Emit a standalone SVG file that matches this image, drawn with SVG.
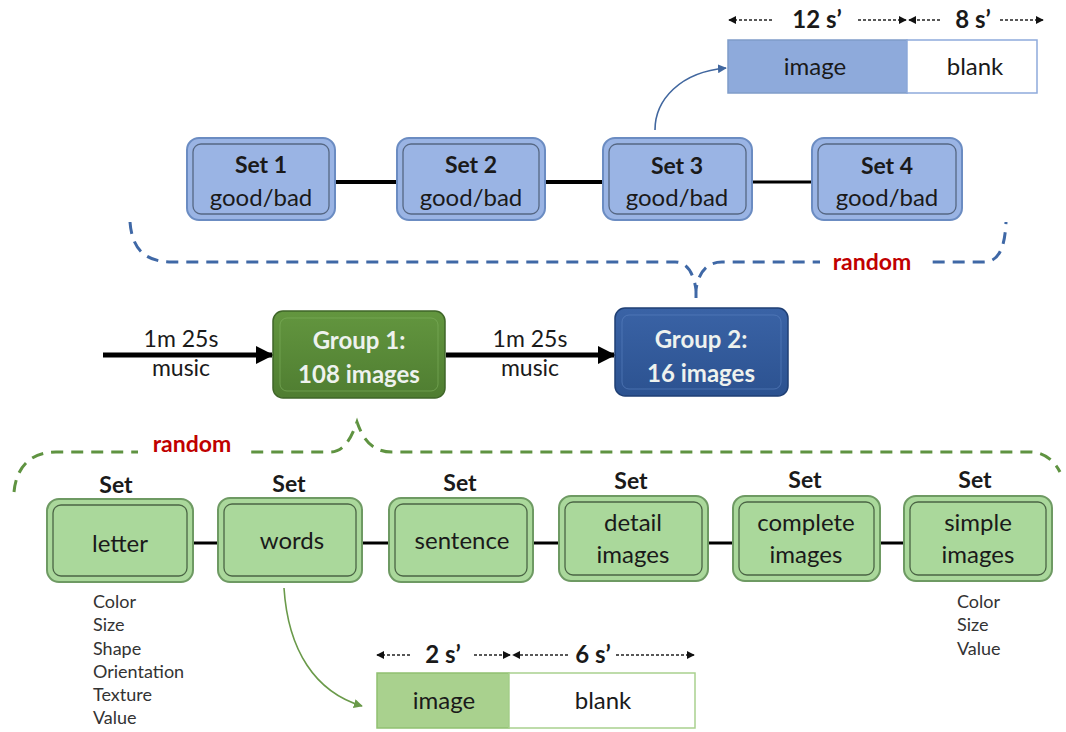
<svg xmlns="http://www.w3.org/2000/svg" width="1066" height="732" viewBox="0 0 1066 732">
  <style>
    text { font-family: Lato, "Open Sans", "Liberation Sans", sans-serif; }
    .blueSet { fill: #9ab4e4; stroke: #6b8cc2; stroke-width: 2; }
    .blueIn { fill: none; stroke: #3f4d63; stroke-width: 1.3; opacity: 0.75; }
    .greenSet { fill: #aad89b; stroke: #6e9a63; stroke-width: 2; }
    .greenIn { fill: none; stroke: #33492f; stroke-width: 1.3; opacity: 0.8; }
    .lbl { font-size: 24px; fill: #1a1a1a; text-anchor: middle; }
    .lblB { font-size: 23px; font-weight: bold; fill: #1a1a1a; text-anchor: middle; }
    .grpTxt { font-size: 24px; font-weight: bold; fill: #eef2ee; text-anchor: middle; }
    .music { font-size: 23px; fill: #1a1a1a; text-anchor: middle; }
    .rand { font-size: 23px; font-weight: bold; fill: #c00000; text-anchor: middle; }
    .list { font-size: 18px; fill: #333; }
    .dur { font-size: 24px; font-weight: bold; fill: #1a1a1a; text-anchor: middle; }
    .tl { stroke: #222; stroke-width: 1.4; stroke-dasharray: 3 2; fill: none; }
    .link { stroke: #000; fill: none; }
  </style>
  <defs>
    <marker id="tiny" viewBox="0 0 10 10" refX="9" refY="5" markerWidth="8" markerHeight="8" markerUnits="userSpaceOnUse" orient="auto">
      <path d="M0,0 L10,5 L0,10 z" fill="#111"/>
    </marker>
    <marker id="bigArrow" viewBox="0 0 10 10" refX="9" refY="5" markerWidth="18" markerHeight="18" markerUnits="userSpaceOnUse" orient="auto">
      <path d="M0,0 L10,5 L0,10 z" fill="#000"/>
    </marker>
    <marker id="blueHead" viewBox="0 0 10 10" refX="9" refY="5" markerWidth="9" markerHeight="9" markerUnits="userSpaceOnUse" orient="auto">
      <path d="M0,0 L10,5 L0,10 z" fill="#41679f"/>
    </marker>
    <marker id="greenHead" viewBox="0 0 10 10" refX="9" refY="5" markerWidth="9" markerHeight="9" markerUnits="userSpaceOnUse" orient="auto">
      <path d="M0,0 L10,5 L0,10 z" fill="#6a9a4a"/>
    </marker>
    <linearGradient id="g1" x1="0" y1="0" x2="0" y2="1">
      <stop offset="0" stop-color="#63963f"/>
      <stop offset="1" stop-color="#4f7d31"/>
    </linearGradient>
    <linearGradient id="g2" x1="0" y1="0" x2="0" y2="1">
      <stop offset="0" stop-color="#3a63a6"/>
      <stop offset="1" stop-color="#2c5290"/>
    </linearGradient>
  </defs>

  <!-- connectors -->
  <g id="connectors">
    <!-- top set chain -->
    <line class="link" x1="335" y1="182" x2="397" y2="182" stroke-width="4"/>
    <line class="link" x1="545" y1="182" x2="603" y2="182" stroke-width="4"/>
    <line class="link" x1="752" y1="182" x2="812" y2="182" stroke-width="3"/>
    <!-- bottom set chain -->
    <line class="link" x1="193" y1="543" x2="218" y2="543" stroke-width="3"/>
    <line class="link" x1="362" y1="543" x2="389" y2="543" stroke-width="3"/>
    <line class="link" x1="533" y1="543" x2="559" y2="543" stroke-width="3"/>
    <line class="link" x1="708" y1="543" x2="733" y2="543" stroke-width="3"/>
    <line class="link" x1="880" y1="543" x2="904" y2="543" stroke-width="3"/>
    <!-- music arrows -->
    <line class="link" x1="103" y1="355" x2="272" y2="355" stroke-width="5" marker-end="url(#bigArrow)"/>
    <line class="link" x1="446" y1="355" x2="614" y2="355" stroke-width="5" marker-end="url(#bigArrow)"/>
    <!-- Set 3 to its trial -->
    <path d="M655,130 C655,100 680,72 726,68" stroke="#41679f" stroke-width="1.6" fill="none" marker-end="url(#blueHead)"/>
    <!-- words set to its trial -->
    <path d="M284,588 C288,650 315,692 362,706" stroke="#6a9a4a" stroke-width="1.6" fill="none" marker-end="url(#greenHead)"/>
    <!-- blue random brace -->
    <path d="M130,222 C132,250 146,262 172,262 L675,262 C688,262 694,275 696,290 C698,275 705,262 722,262 L984,262 C1000,262 1005,245 1006,222" stroke="#3f68a6" stroke-width="3" stroke-dasharray="12 8" fill="none"/>
    <line x1="696" y1="290" x2="696" y2="300" stroke="#3f68a6" stroke-width="3" stroke-dasharray="8 4"/>
    <!-- green random brace -->
    <path d="M14,492 C16,470 28,452 56,452 L330,452 C345,452 352,436 357,422 C362,436 370,452 392,452 L1030,452 C1045,452 1055,462 1060,472" stroke="#5f9341" stroke-width="3" stroke-dasharray="12 8" fill="none"/>
  </g>

  <!-- labels on the braces -->
  <g id="randomTop">
    <rect x="820" y="250" width="108" height="26" fill="#fff"/>
    <text class="rand" x="872" y="270">random</text>
  </g>
  <g id="randomBottom">
    <rect x="138" y="434" width="108" height="26" fill="#fff"/>
    <text class="rand" x="192" y="452">random</text>
  </g>

  <!-- top trial timeline -->
  <g id="trialTop">
    <line class="tl" x1="772" y1="20" x2="729" y2="20" marker-end="url(#tiny)"/>
    <text class="dur" x="817" y="28">12 s’</text>
    <line class="tl" x1="858" y1="20" x2="906" y2="20" marker-end="url(#tiny)"/>
    <line class="tl" x1="940" y1="20" x2="909" y2="20" marker-end="url(#tiny)"/>
    <text class="dur" x="973" y="28">8 s’</text>
    <line class="tl" x1="1000" y1="20" x2="1043" y2="20" marker-end="url(#tiny)"/>
    <rect x="728" y="40" width="179" height="53" fill="#8eaadb" stroke="#7f9cc9" stroke-width="1.5"/>
    <rect x="907" y="40" width="130" height="53" fill="#fff" stroke="#8eaadb" stroke-width="1.5"/>
    <text class="lbl" x="815" y="75">image</text>
    <text class="lbl" x="975" y="75">blank</text>
  </g>

  <!-- top sets -->
  <g id="set1">
    <rect class="blueSet" x="187" y="138" width="148" height="82" rx="12"/>
    <rect class="blueIn" x="193" y="144" width="136" height="70" rx="8"/>
    <text class="lblB" x="261" y="173">Set 1</text>
    <text class="lbl" x="261" y="206">good/bad</text>
  </g>
  <g id="set2">
    <rect class="blueSet" x="397" y="138" width="148" height="82" rx="12"/>
    <rect class="blueIn" x="403" y="144" width="136" height="70" rx="8"/>
    <text class="lblB" x="471" y="173">Set 2</text>
    <text class="lbl" x="471" y="206">good/bad</text>
  </g>
  <g id="set3">
    <rect class="blueSet" x="603" y="138" width="149" height="82" rx="12"/>
    <rect class="blueIn" x="609" y="144" width="137" height="70" rx="8"/>
    <text class="lblB" x="677" y="174">Set 3</text>
    <text class="lbl" x="677" y="206">good/bad</text>
  </g>
  <g id="set4">
    <rect class="blueSet" x="812" y="138" width="150" height="82" rx="12"/>
    <rect class="blueIn" x="818" y="144" width="138" height="70" rx="8"/>
    <text class="lblB" x="887" y="174">Set 4</text>
    <text class="lbl" x="887" y="206">good/bad</text>
  </g>

  <!-- music labels -->
  <g id="music1">
    <text class="music" x="181" y="347">1m 25s</text>
    <text class="music" x="181" y="376">music</text>
  </g>
  <g id="music2">
    <text class="music" x="530" y="347">1m 25s</text>
    <text class="music" x="530" y="376">music</text>
  </g>

  <!-- groups -->
  <g id="group1">
    <rect x="273" y="311" width="172" height="87" rx="10" fill="url(#g1)" stroke="#3f6628" stroke-width="1.5"/>
    <rect x="280" y="318" width="158" height="73" rx="7" fill="none" stroke="#7fb05d" stroke-width="1" opacity="0.6"/>
    <text class="grpTxt" x="359" y="349">Group 1:</text>
    <text class="grpTxt" x="359" y="383">108 images</text>
  </g>
  <g id="group2">
    <rect x="615" y="308" width="173" height="88" rx="10" fill="url(#g2)" stroke="#1f3f74" stroke-width="1.5"/>
    <rect x="622" y="315" width="159" height="74" rx="7" fill="none" stroke="#5b82c2" stroke-width="1" opacity="0.6"/>
    <text class="grpTxt" x="701" y="348">Group 2:</text>
    <text class="grpTxt" x="701" y="382">16 images</text>
  </g>

  <!-- bottom sets -->
  <g id="setLetter">
    <text class="lblB" x="116" y="493">Set</text>
    <rect class="greenSet" x="47" y="499" width="146" height="83" rx="12"/>
    <rect class="greenIn" x="53" y="505" width="134" height="71" rx="8"/>
    <text class="lbl" x="120" y="552">letter</text>
  </g>
  <g id="setWords">
    <text class="lblB" x="289" y="492">Set</text>
    <rect class="greenSet" x="218" y="498" width="144" height="84" rx="12"/>
    <rect class="greenIn" x="224" y="504" width="132" height="72" rx="8"/>
    <text class="lbl" x="292" y="549">words</text>
  </g>
  <g id="setSentence">
    <text class="lblB" x="460" y="491">Set</text>
    <rect class="greenSet" x="389" y="498" width="144" height="84" rx="12"/>
    <rect class="greenIn" x="395" y="504" width="132" height="72" rx="8"/>
    <text class="lbl" x="462" y="549">sentence</text>
  </g>
  <g id="setDetail">
    <text class="lblB" x="631" y="489">Set</text>
    <rect class="greenSet" x="559" y="496" width="149" height="85" rx="12"/>
    <rect class="greenIn" x="565" y="502" width="137" height="73" rx="8"/>
    <text class="lbl" x="633" y="531">detail</text>
    <text class="lbl" x="633" y="563">images</text>
  </g>
  <g id="setComplete">
    <text class="lblB" x="805" y="488">Set</text>
    <rect class="greenSet" x="733" y="496" width="147" height="85" rx="12"/>
    <rect class="greenIn" x="739" y="502" width="135" height="73" rx="8"/>
    <text class="lbl" x="806" y="531">complete</text>
    <text class="lbl" x="806" y="563">images</text>
  </g>
  <g id="setSimple">
    <text class="lblB" x="975" y="488">Set</text>
    <rect class="greenSet" x="904" y="496" width="148" height="85" rx="12"/>
    <rect class="greenIn" x="910" y="502" width="136" height="73" rx="8"/>
    <text class="lbl" x="978" y="531">simple</text>
    <text class="lbl" x="978" y="563">images</text>
  </g>

  <!-- attribute lists -->
  <g id="attrsLeft">
    <text class="list" x="93" y="608">Color</text>
    <text class="list" x="93" y="631">Size</text>
    <text class="list" x="93" y="655">Shape</text>
    <text class="list" x="93" y="678">Orientation</text>
    <text class="list" x="93" y="701">Texture</text>
    <text class="list" x="93" y="724">Value</text>
  </g>
  <g id="attrsRight">
    <text class="list" x="957" y="608">Color</text>
    <text class="list" x="957" y="631">Size</text>
    <text class="list" x="957" y="655">Value</text>
  </g>

  <!-- bottom trial timeline -->
  <g id="trialBottom">
    <line class="tl" x1="410" y1="655" x2="377" y2="655" marker-end="url(#tiny)"/>
    <text class="dur" x="443" y="663">2 s’</text>
    <line class="tl" x1="474" y1="655" x2="510" y2="655" marker-end="url(#tiny)"/>
    <line class="tl" x1="568" y1="655" x2="513" y2="655" marker-end="url(#tiny)"/>
    <text class="dur" x="593" y="663">6 s’</text>
    <line class="tl" x1="616" y1="655" x2="694" y2="655" marker-end="url(#tiny)"/>
    <rect x="377" y="673" width="132" height="55" fill="#a9d18e" stroke="#90c070" stroke-width="1.5"/>
    <rect x="509" y="673" width="186" height="55" fill="#fff" stroke="#a9d18e" stroke-width="1.5"/>
    <text class="lbl" x="444" y="709">image</text>
    <text class="lbl" x="603" y="709">blank</text>
  </g>
</svg>
